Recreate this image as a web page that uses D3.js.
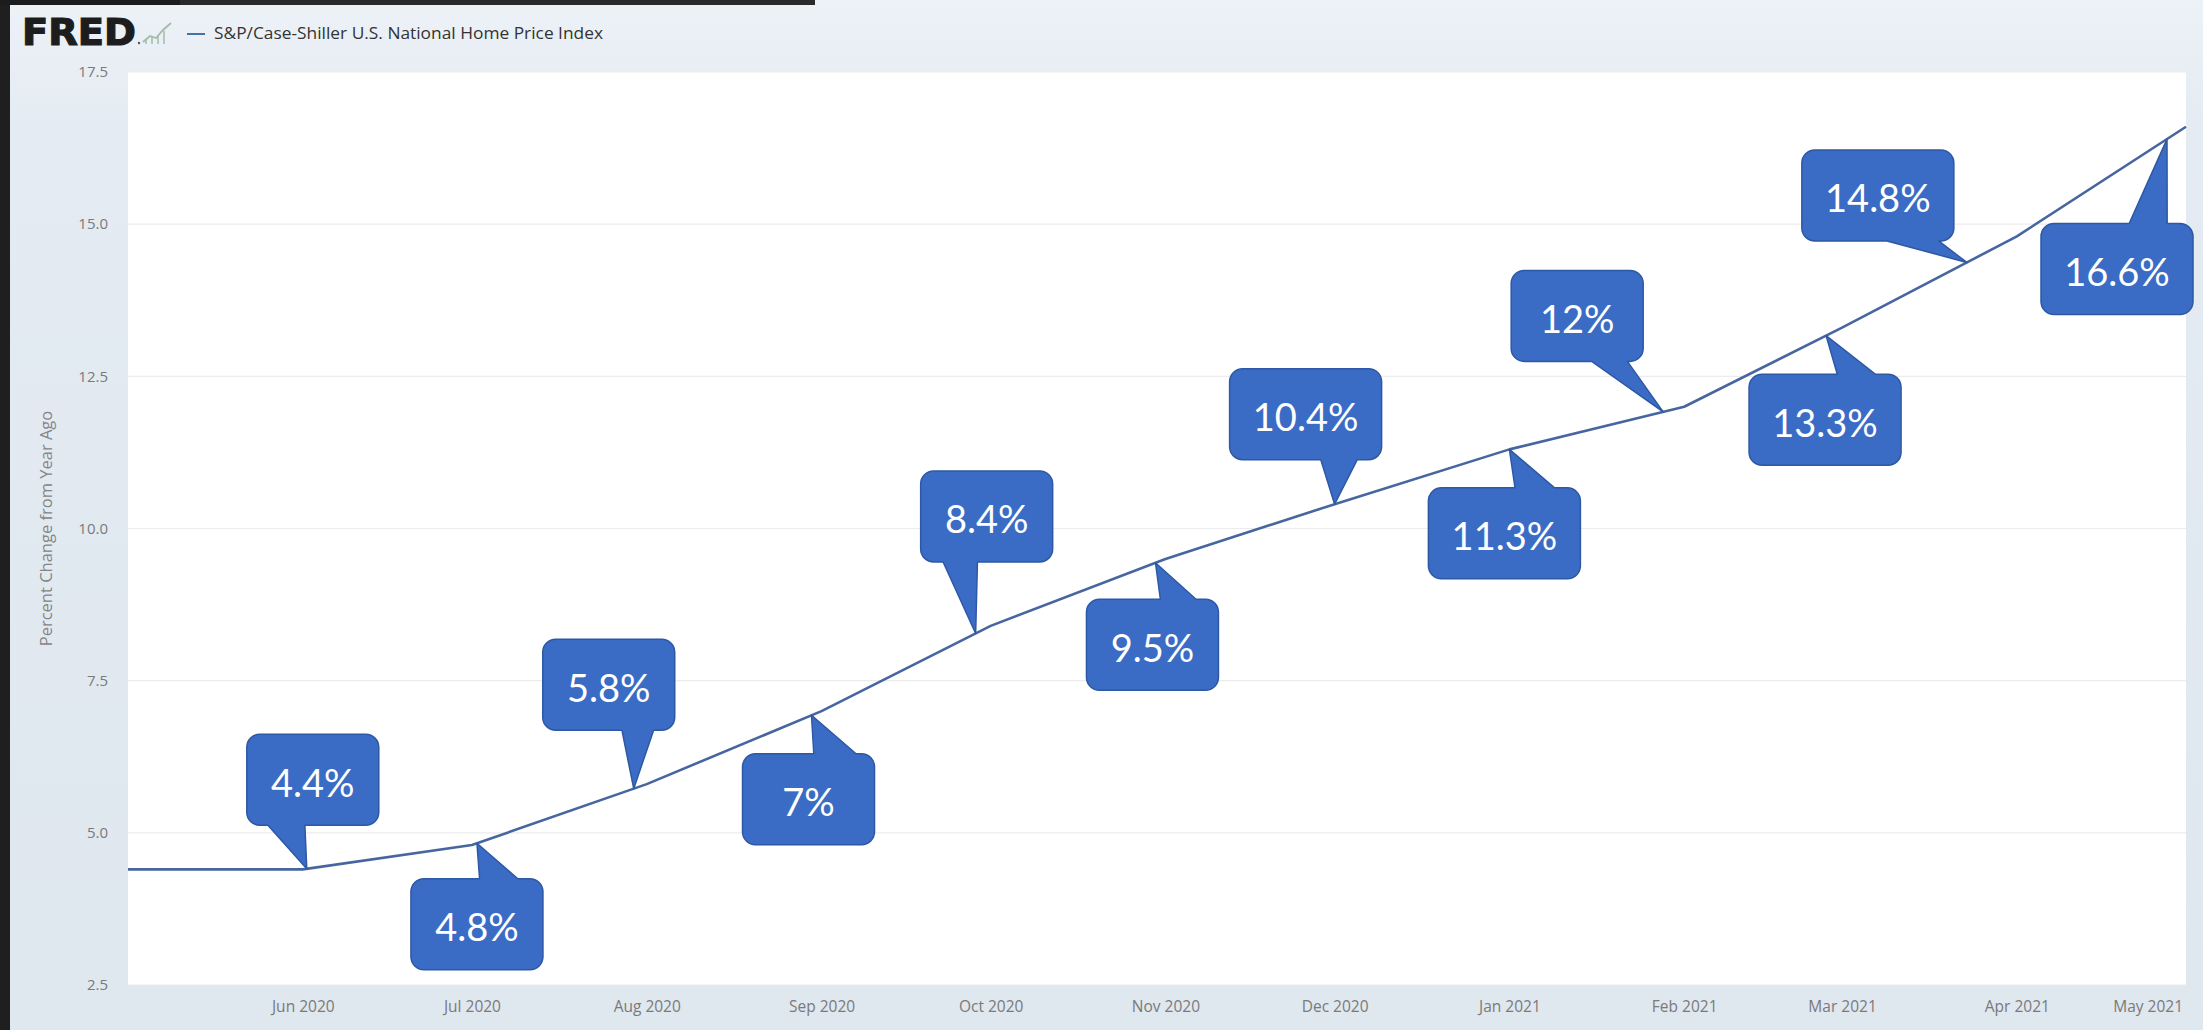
<!DOCTYPE html>
<html>
<head>
<meta charset="utf-8">
<script src="https://cdn.jsdelivr.net/npm/d3@7"></script>
<style>
  html, body { margin: 0; padding: 0; overflow: hidden; background: #e3eaf1; }
  svg { display: block; }
</style>
</head>
<body>
<svg id="chart" width="2203" height="1030"></svg>
<script>
// S&P/Case-Shiller U.S. National Home Price Index, percent change from year ago
const months = ["2020-05", "2020-06", "2020-07", "2020-08", "2020-09", "2020-10",
                "2020-11", "2020-12", "2021-01", "2021-02", "2021-03", "2021-04", "2021-05"];
const values = [4.4, 4.4, 4.8, 5.8, 7.0, 8.4, 9.5, 10.4, 11.3, 12.0, 13.3, 14.8, 16.6];
const yTickValues = [2.5, 5.0, 7.5, 10.0, 12.5, 15.0, 17.5];
const xTickMonths = ["2020-06", "2020-07", "2020-08", "2020-09", "2020-10", "2020-11",
                     "2020-12", "2021-01", "2021-02", "2021-03", "2021-04", "2021-05"];
const seriesName = "S&P/Case-Shiller U.S. National Home Price Index";
const yAxisTitle = "Percent Change from Year Ago";

// Callout placement for each labelled month (Jun 2020 .. May 2021):
// box centre offset from the pointer tip, tail edge, tail base span, tip shift along the line
const calloutLayout = [
  { dx:   6, dy:  -89, side: "bottom", base: [0.16, 0.44], tipDx:   4 },
  { dx:   0, dy:   81, side: "top",    base: [0.52, 0.81], tipDx:   5 },
  { dx: -25, dy: -104, side: "bottom", base: [0.60, 0.84], tipDx: -13 },
  { dx:  -3, dy:   84, side: "top",    base: [0.54, 0.86], tipDx: -10 },
  { dx:  11, dy: -117, side: "bottom", base: [0.17, 0.43], tipDx: -15 },
  { dx:  -3, dy:   82, side: "top",    base: [0.56, 0.83], tipDx: -10 },
  { dx: -29, dy:  -90, side: "bottom", base: [0.60, 0.84], tipDx:   0 },
  { dx:  -5, dy:   84, side: "top",    base: [0.57, 0.83], tipDx:   0 },
  { dx: -86, dy:  -96, side: "bottom", base: [0.61, 0.88], tipDx: -21 },
  { dx:  -1, dy:   84, side: "top",    base: [0.58, 0.83], tipDx: -16 },
  { dx: -89, dy:  -67, side: "bottom", base: [0.56, 0.90], tipDx: -50 },
  { dx: -50, dy:  130, side: "top",    base: [0.58, 0.83], tipDx: -19 }
];

const parseMonth = d3.utcParse("%Y-%m");
const data = months.map((m, i) => ({ date: parseMonth(m), value: values[i] }));

const W = 2203, H = 1030;
const plot = { left: 128, right: 2186, top: 72, bottom: 985 };

const svg = d3.select("#chart");

// page background
const defs = svg.append("defs");
const bg = defs.append("linearGradient").attr("id", "bgGrad")
  .attr("x1", 0).attr("y1", 0).attr("x2", 0).attr("y2", 1);
bg.append("stop").attr("offset", "0%").attr("stop-color", "#edf2f7");
bg.append("stop").attr("offset", "12%").attr("stop-color", "#e4ebf2");
bg.append("stop").attr("offset", "100%").attr("stop-color", "#dfe7ef");
svg.append("rect").attr("width", W).attr("height", H).attr("fill", "url(#bgGrad)");

// dark window frame along the left and top-left edge
svg.append("rect").attr("x", 0).attr("y", 0).attr("width", 10).attr("height", H).attr("fill", "#1f1f1f");
svg.append("rect").attr("x", 0).attr("y", 0).attr("width", 815).attr("height", 5).attr("fill", "#2a2a2a");
svg.append("rect").attr("x", 0).attr("y", 0).attr("width", 180).attr("height", 5).attr("fill", "#1c1c1c");

// plot area
svg.append("rect")
  .attr("x", plot.left).attr("y", plot.top)
  .attr("width", plot.right - plot.left).attr("height", plot.bottom - plot.top)
  .attr("fill", "#ffffff");

const x = d3.scaleUtc()
  .domain(d3.extent(data, d => d.date))
  .range([plot.left, plot.right]);
const y = d3.scaleLinear()
  .domain([2.5, 17.5])
  .range([plot.bottom, plot.top]);

// horizontal grid lines
svg.append("g").selectAll("line")
  .data(yTickValues)
  .join("line")
  .attr("x1", plot.left).attr("x2", plot.right)
  .attr("y1", d => y(d)).attr("y2", d => y(d))
  .attr("stroke", "#ececec").attr("stroke-width", 1.2);

// y axis labels
const yAxis = svg.append("g")
  .attr("transform", `translate(${plot.left},0)`)
  .call(d3.axisLeft(y).tickValues(yTickValues).tickFormat(d3.format(".1f")).tickSize(0).tickPadding(20));
yAxis.select(".domain").remove();
yAxis.selectAll("text")
  .attr("font-family", "'Open Sans', sans-serif")
  .attr("font-size", 15)
  .attr("fill", "#7a7a7a");

// x axis labels
const xAxis = svg.append("g")
  .attr("transform", `translate(0,${plot.bottom})`)
  .call(d3.axisBottom(x).tickValues(xTickMonths.map(parseMonth))
    .tickFormat(d3.utcFormat("%b %Y")).tickSize(0).tickPadding(16));
xAxis.select(".domain").remove();
xAxis.selectAll("text")
  .attr("font-family", "'Open Sans', sans-serif")
  .attr("font-size", 15.5)
  .attr("fill", "#7a7a7a");
// keep the last label inside the plot's right edge
xAxis.selectAll(".tick").each(function () {
  const t = d3.select(this).select("text");
  const box = this.getBBox();
  const m = this.transform.baseVal.consolidate().matrix;
  const rightEdge = m.e + box.x + box.width;
  if (rightEdge > plot.right - 3) t.attr("x", -(rightEdge - (plot.right - 3)));
});

// y axis title
svg.append("text")
  .attr("transform", `translate(45,${(plot.top + plot.bottom) / 2}) rotate(-90)`)
  .attr("text-anchor", "middle")
  .attr("dominant-baseline", "central")
  .attr("font-family", "'Open Sans', sans-serif")
  .attr("font-size", 16.5)
  .attr("fill", "#858585")
  .text(yAxisTitle);

// header: logo and legend
svg.append("text")
  .attr("x", 22).attr("y", 45)
  .attr("font-family", "'DejaVu Sans', 'Liberation Sans', sans-serif")
  .attr("font-weight", "bold")
  .attr("font-size", 37)
  .attr("textLength", 114)
  .attr("lengthAdjust", "spacingAndGlyphs")
  .attr("fill", "#1d1d1d")
  .attr("stroke", "#1d1d1d")
  .attr("stroke-width", 1.2)
  .text("FRED");
svg.append("circle").attr("cx", 139).attr("cy", 43).attr("r", 1.2).attr("fill", "#555");
const icon = svg.append("g").attr("fill", "none").attr("stroke", "#a3bba8").attr("stroke-width", 1.8);
icon.append("path").attr("d", "M143,42 L150,36 L156,38 L163,30 L171,23");
icon.append("path").attr("d", "M146,44 L146,39 M152,44 L152,37 M158,44 L158,35 M164,44 L164,31").attr("stroke-width", 1.5);
svg.append("line")
  .attr("x1", 187).attr("x2", 205).attr("y1", 34).attr("y2", 34)
  .attr("stroke", "#4572a7").attr("stroke-width", 2);
svg.append("text")
  .attr("x", 214).attr("y", 39)
  .attr("font-family", "'Open Sans', sans-serif")
  .attr("font-size", 15.5)
  .attr("textLength", 389)
  .attr("lengthAdjust", "spacingAndGlyphs")
  .attr("fill", "#333333")
  .text(seriesName);

// data line
const line = d3.line().x(d => x(d.date)).y(d => y(d.value));
svg.append("path")
  .datum(data)
  .attr("d", line)
  .attr("fill", "none")
  .attr("stroke", "#4766a0")
  .attr("stroke-width", 2.6)
  .attr("stroke-linejoin", "round");

// value of the line at any horizontal position
function valueAtX(px) {
  const t = x.invert(px);
  const i = Math.max(1, Math.min(data.length - 1, d3.bisector(d => d.date).left(data, t)));
  const a = data[i - 1], b = data[i];
  const f = (t - a.date) / (b.date - a.date);
  return a.value + (b.value - a.value) * Math.max(0, Math.min(1, f));
}

// rounded box with a wedge pointing at (tx, ty)
function calloutPath(x0, y0, w, h, r, side, base, tx, ty) {
  const x1 = x0 + w, y1 = y0 + h;
  const p = d3.path();
  p.moveTo(x0 + r, y0);
  if (side === "top") {
    p.lineTo(x0 + base[0] * w, y0);
    p.lineTo(tx, ty);
    p.lineTo(x0 + base[1] * w, y0);
  }
  p.lineTo(x1 - r, y0);
  p.arcTo(x1, y0, x1, y0 + r, r);
  p.lineTo(x1, y1 - r);
  p.arcTo(x1, y1, x1 - r, y1, r);
  if (side === "bottom") {
    p.lineTo(x0 + base[1] * w, y1);
    p.lineTo(tx, ty);
    p.lineTo(x0 + base[0] * w, y1);
  }
  p.lineTo(x0 + r, y1);
  p.arcTo(x0, y1, x0, y1 - r, r);
  p.lineTo(x0, y0 + r);
  p.arcTo(x0, y0, x0 + r, y0, r);
  p.closePath();
  return p.toString();
}

const fmtPct = v => `${+v.toFixed(1)}%`;
const labelled = data.slice(1);
const callouts = svg.append("g").attr("class", "callouts");

labelled.forEach((d, i) => {
  const L = calloutLayout[i];
  const label = fmtPct(d.value);
  const tx = x(d.date) + L.tipDx;
  const ty = y(valueAtX(tx));
  const w = label.length >= 5 ? 152 : 132;
  const h = 91;
  const cx = tx + L.dx, cy = ty + L.dy;
  const g = callouts.append("g");
  g.append("path")
    .attr("d", calloutPath(cx - w / 2, cy - h / 2, w, h, 13, L.side, L.base, tx, ty))
    .attr("fill", "#3b6cc5")
    .attr("stroke", "#2d58a3")
    .attr("stroke-width", 1.5)
    .attr("stroke-linejoin", "round");
  g.append("text")
    .attr("x", cx).attr("y", cy + 2)
    .attr("text-anchor", "middle")
    .attr("dominant-baseline", "central")
    .attr("font-family", "Lato, 'Open Sans', sans-serif")
    .attr("font-size", 38)
    .attr("fill", "#ffffff")
    .text(label);
});
</script>
</body>
</html>
